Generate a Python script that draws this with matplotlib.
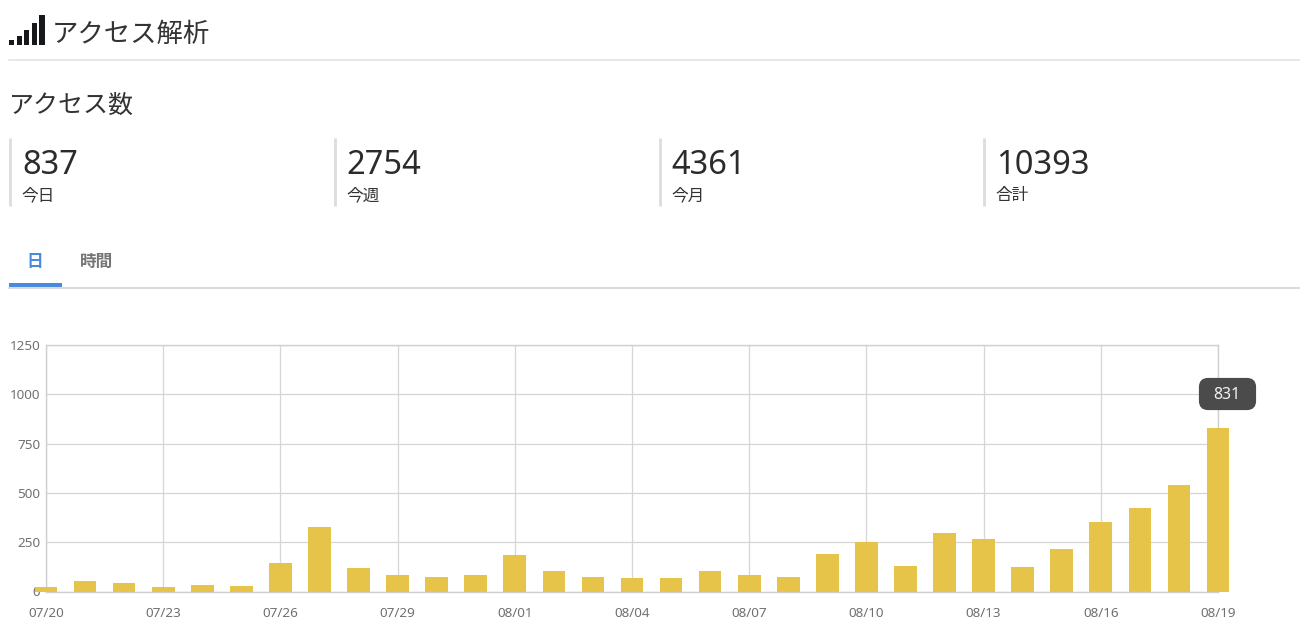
import matplotlib
matplotlib.use("Agg")
import matplotlib.pyplot as plt
from matplotlib.patches import FancyBboxPatch, Rectangle

plt.rcParams['font.family'] = ['Noto Sans', 'Noto Sans CJK JP', 'DejaVu Sans']

days = ['07/20', '07/21', '07/22', '07/23', '07/24', '07/25', '07/26', '07/27',
        '07/28', '07/29', '07/30', '07/31', '08/01', '08/02', '08/03', '08/04',
        '08/05', '08/06', '08/07', '08/08', '08/09', '08/10', '08/11', '08/12',
        '08/13', '08/14', '08/15', '08/16', '08/17', '08/18', '08/19']
visits = [22, 52, 42, 22, 35, 30, 142, 328, 120, 83, 75, 82, 185, 105, 72, 68,
          68, 105, 85, 72, 188, 253, 130, 298, 268, 125, 215, 352, 425, 538, 831]
y_ticks = [0, 250, 500, 750, 1000, 1250]

page_title = 'アクセス解析'
section_title = 'アクセス数'
stat_values = ['837', '2754', '4361', '10393']
stat_labels = ['今日', '今週', '今月', '合計']
tabs = ['日', '時間']
icon_heights = [5, 9, 15, 22, 30]

W, H = 1300, 638
fig = plt.figure(figsize=(W / 100, H / 100), dpi=100, facecolor='white')

# page furniture goes on an overlay in pixel coords
ui = fig.add_axes([0, 0, 1, 1], zorder=3)
ui.set_xlim(0, W)
ui.set_ylim(H, 0)
ui.axis('off')

for i, h in enumerate(icon_heights):
    ui.add_patch(Rectangle((9 + i * 7.6, 45 - h), 5.2, h, color='#16181c', lw=0))
ui.text(51.5, 35, page_title, fontsize=19, color='#333333', va='center')
ui.plot([9, 1300], [59.5, 59.5], color='#e1e4e6', lw=1.2)

ui.text(8.5, 106, section_title, fontsize=18, color='#333333', va='center')

for i, (val, lab) in enumerate(zip(stat_values, stat_labels)):
    x = 10 + i * 324.8
    ui.plot([x, x], [138, 206], color='#dddddd', lw=2, solid_capstyle='butt')
    ui.text(x + 12, 165, val, fontsize=23.5, color='#2b2b2b', va='center')
    ui.text(x + 11.5, 196, lab, fontsize=12, color='#333333', va='center')

ui.text(35, 263, tabs[0], fontsize=12, color='#4a8ade', ha='center', va='center', fontweight='bold')
ui.text(97, 263, tabs[1], fontsize=12, color='#757575', ha='center', va='center', fontweight='bold')
ui.plot([9, 1300], [287.5, 287.5], color='#cfd4d8', lw=1.2)
ui.add_patch(Rectangle((9, 283), 53, 4, color='#4a8ade', lw=0))

# chart, x runs from first to last day with no margin
left, right, top, bottom = 46, 1218, 345, 591.5
ax = fig.add_axes([left / W, 1 - bottom / H, (right - left) / W, (bottom - top) / H], zorder=2)
ax.patch.set_alpha(0)
xs = list(range(len(days)))
ax.bar(xs, visits, width=0.58, color='#e6c44a', clip_on=False, zorder=3)
ax.set_xlim(0, len(days) - 1)
ax.set_ylim(0, 1250)
ax.set_yticks(y_ticks)
ax.set_xticks(xs[::3])
ax.set_xticklabels(days[::3])
ax.grid(True, color='#d6d6d6', lw=0.9, zorder=0)
ax.set_axisbelow(True)
ax.tick_params(length=0, labelsize=9.7, labelcolor='#707070')
ax.tick_params(axis='x', pad=11)
ax.tick_params(axis='y', pad=4)
for spine in ax.spines.values():
    spine.set_edgecolor('#d0d0d0')
    spine.set_linewidth(1)

# tooltip on the last bar
ui.add_patch(FancyBboxPatch((1201, 380), 53, 28, boxstyle='round,pad=0,rounding_size=7',
                            mutation_aspect=1, fc='#4b4b4b', ec='#4b4b4b', lw=3))
ui.text(1227, 395, str(visits[-1]), fontsize=11.5, color='#f2f2f2', ha='center', va='center')

fig.savefig('out.png', dpi=100)
